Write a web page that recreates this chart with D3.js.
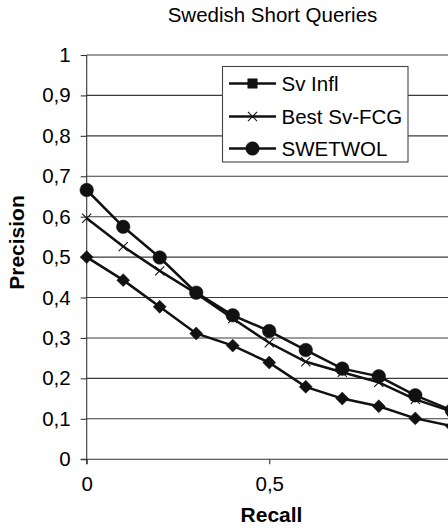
<!DOCTYPE html>
<html><head><meta charset="utf-8">
<script src="https://cdn.jsdelivr.net/npm/d3@7"></script>
<style>
html,body{margin:0;padding:0;background:#fff;}
svg{display:block;font-family:"Liberation Sans",Arial,sans-serif;}
</style></head>
<body>
<svg id="c" width="448" height="528"></svg>
<script>
const recall = [0, 0.1, 0.2, 0.3, 0.4, 0.5, 0.6, 0.7, 0.8, 0.9, 1.0];
const svInfl = [0.5, 0.443, 0.377, 0.311, 0.281, 0.239, 0.179, 0.150, 0.131, 0.101, 0.082];
const bestSvFCG = [0.596, 0.526, 0.466, 0.41, 0.348, 0.288, 0.241, 0.215, 0.19, 0.148, 0.118];
const swetwol = [0.666, 0.575, 0.499, 0.412, 0.356, 0.317, 0.27, 0.224, 0.205, 0.158, 0.121];
const seriesNames = ["Sv Infl", "Best Sv-FCG", "SWETWOL"];
const yTicks = [0, 0.1, 0.2, 0.3, 0.4, 0.5, 0.6, 0.7, 0.8, 0.9, 1];
const xTicks = [0, 0.5];
const title = "Swedish Short Queries";
const xTitle = "Recall";
const yTitle = "Precision";

const svg = d3.select("#c");
const x = d3.scaleLinear().domain([0, 1]).range([86.7, 451.8]);
const y = d3.scaleLinear().domain([0, 1]).range([459.2, 55]);
const fmt = d => d3.format("")(d).replace(".", ",");

// gridlines
svg.append("g").selectAll("line").data(yTicks.filter(d => d > 0)).join("line")
  .attr("x1", x(0)).attr("x2", 460)
  .attr("y1", d => y(d)).attr("y2", d => y(d))
  .attr("stroke", "#3a3a3a").attr("stroke-width", 1.1);

// y axis
const ya = svg.append("g").attr("transform", `translate(${x(0)},0)`)
  .call(d3.axisLeft(y).tickValues(yTicks).tickFormat(fmt).tickSize(6).tickPadding(10));
ya.select(".domain").attr("stroke", "#333").attr("stroke-width", 1.1).attr("d", `M0,${y(1)}V${y(0)+5}`);
ya.selectAll(".tick line").attr("stroke", "#333").attr("stroke-width", 1.1);
ya.selectAll(".tick text").attr("font-size", 20.5).attr("font-family", "Liberation Sans, Arial").attr("fill", "#000");

// x axis
const xa = svg.append("g").attr("transform", `translate(0,${y(0)})`)
  .call(d3.axisBottom(x).tickValues(xTicks).tickFormat(fmt).tickSize(5).tickPadding(12));
xa.select(".domain").attr("stroke", "#333").attr("stroke-width", 1.1).attr("d", `M${x(0)-6},0H460`);
xa.selectAll(".tick line").attr("stroke", "#333").attr("stroke-width", 1.1);
xa.selectAll(".tick text").attr("font-size", 20.5).attr("font-family", "Liberation Sans, Arial").attr("fill", "#000");

const line = d3.line().x((d, i) => x(recall[i])).y(d => y(d));
const data = [svInfl, bestSvFCG, swetwol];
const sym = [
  d3.symbol(d3.symbolSquare, 84),
  d3.symbol(d3.symbolX, 56),
  d3.symbol(d3.symbolCircle, 145)
];
const rot = [45, 0, 0];

data.forEach((s, k) => {
  svg.append("path").datum(s).attr("d", line)
    .attr("fill", "none").attr("stroke", "#111").attr("stroke-width", 2.5);
  svg.append("g").selectAll("path").data(s).join("path")
    .attr("transform", (d, i) => `translate(${x(recall[i])},${y(d)}) rotate(${rot[k]})`)
    .attr("d", sym[k]())
    .attr("fill", k === 1 ? "none" : "#111")
    .attr("stroke", "#111").attr("stroke-width", k === 1 ? 1.1 : 0.5);
});

// legend
const lg = svg.append("g");
lg.append("rect").attr("x", 222.5).attr("y", 66.5).attr("width", 185.5).attr("height", 95.5)
  .attr("fill", "#fff").attr("stroke", "#444").attr("stroke-width", 1.1);
const rowsY = [83.5, 116.5, 148.5];
const legSym = [
  d3.symbol(d3.symbolSquare, 90),
  d3.symbol(d3.symbolX, 56),
  d3.symbol(d3.symbolCircle, 145)
];
seriesNames.forEach((n, k) => {
  lg.append("line").attr("x1", 229).attr("x2", 276).attr("y1", rowsY[k]).attr("y2", rowsY[k])
    .attr("stroke", "#111").attr("stroke-width", 2.5);
  lg.append("path").attr("transform", `translate(252.5,${rowsY[k]})`).attr("d", legSym[k]())
    .attr("fill", k === 1 ? "none" : "#111").attr("stroke", "#111").attr("stroke-width", k === 1 ? 1.1 : 0.5);
  lg.append("text").attr("x", 281.5).attr("y", rowsY[k]).attr("dy", "0.36em")
    .attr("font-size", 20.5).text(n);
});

// titles
svg.append("text").attr("x", 272.5).attr("y", 22).attr("text-anchor", "middle")
  .attr("font-size", 20.5).text(title);
svg.append("text").attr("x", 271.5).attr("y", 521.5).attr("text-anchor", "middle")
  .attr("font-size", 21).attr("font-weight", "bold").text(xTitle);
svg.append("text").attr("transform", "translate(23.5,242.5) rotate(-90)").attr("text-anchor", "middle")
  .attr("font-size", 21).attr("font-weight", "bold").text(yTitle);
</script>
</body></html>
